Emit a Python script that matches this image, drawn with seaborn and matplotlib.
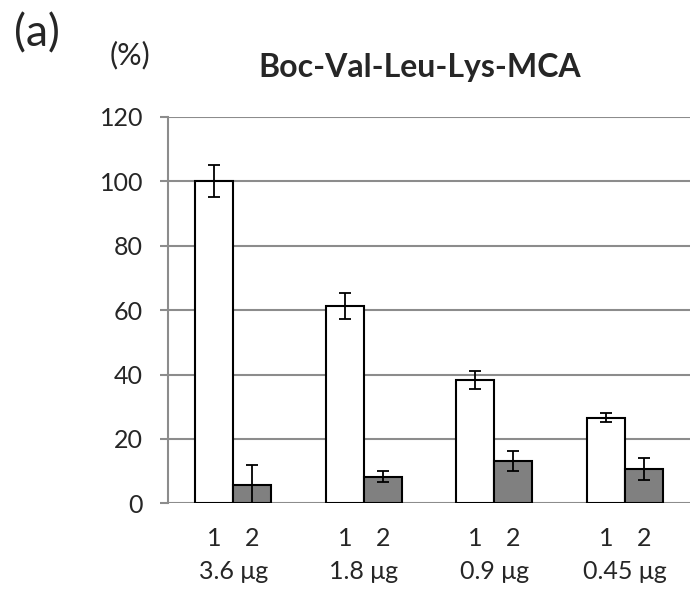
import numpy as np
import pandas as pd
import seaborn as sns
from matplotlib import pyplot as plt

doses = ["3.6 μg", "1.8 μg", "0.9 μg", "0.45 μg"]
samples = ["1", "2"]
values_1 = [100.0, 61.4, 38.3, 26.6]
values_2 = [5.7, 8.3, 13.0, 10.6]
errors_1 = [5.0, 4.0, 2.9, 1.3]
errors_2 = [6.2, 1.7, 3.1, 3.5]
title = "Boc-Val-Leu-Lys-MCA"

df = pd.DataFrame({
    "dose": doses * 2,
    "sample": [samples[0]] * len(doses) + [samples[1]] * len(doses),
    "value": values_1 + values_2,
})

sns.set_style("white")
plt.rcParams["font.family"] = ["Lato", "DejaVu Sans"]

fig = plt.figure(figsize=(6.9, 5.9), dpi=100)
ax = fig.add_axes([0.2435, 0.147, 0.7565, 0.6547])

sns.barplot(data=df, x="dose", y="value", hue="sample",
            palette=["white", "#808080"], edgecolor="black", linewidth=1.5,
            width=0.58, legend=False, ax=ax)

# error bars placed on the drawn bars
centers = {}
for cont, errs, lab in zip(ax.containers, [errors_1, errors_2], samples):
    xs = [p.get_x() + p.get_width() / 2 for p in cont.patches]
    hs = [p.get_height() for p in cont.patches]
    ax.errorbar(xs, hs, yerr=errs, fmt="none", ecolor="black",
                elinewidth=1.3, capsize=4.5, capthick=1.3, zorder=5)
    centers[lab] = xs

ax.set_ylim(0, 120)
ax.set_yticks(np.arange(0, 121, 20))
ax.set_xlim(-0.5, len(doses) - 0.5)
ax.yaxis.grid(True, color="#8c8c8c", linewidth=1.5)
ax.set_axisbelow(True)
for s in ["top", "right", "bottom"]:
    ax.spines[s].set_visible(False)
ax.spines["left"].set_color("#8c8c8c")
ax.spines["left"].set_linewidth(1.5)
ax.tick_params(axis="y", length=6, width=1.5, color="#8c8c8c",
               pad=12, labelsize=18, left=True)

# sample numbers under bars, dose under groups
minor_pos = centers["1"] + centers["2"]
minor_lab = ["1"] * len(doses) + ["2"] * len(doses)
ax.set_xticks(minor_pos, minor=True)
ax.set_xticklabels(minor_lab, minor=True)
ax.set_xticks(range(len(doses)))
ax.set_xticklabels(doses)
ax.tick_params(axis="x", which="minor", length=0, pad=17, labelsize=18)
ax.tick_params(axis="x", which="major", length=0, pad=41, labelsize=18)
ax.set_xlabel("")
ax.set_ylabel("")

fig.text(420 / 690, 1 - 67 / 590, title, ha="center", va="center",
         fontsize=23, fontweight="bold")
fig.text(130 / 690, 1 - 55 / 590, "(%)", ha="center", va="center", fontsize=22)
fig.text(37 / 690, 1 - 34 / 590, "(a)", ha="center", va="center", fontsize=32)

fig.savefig("out.png", dpi=100)
